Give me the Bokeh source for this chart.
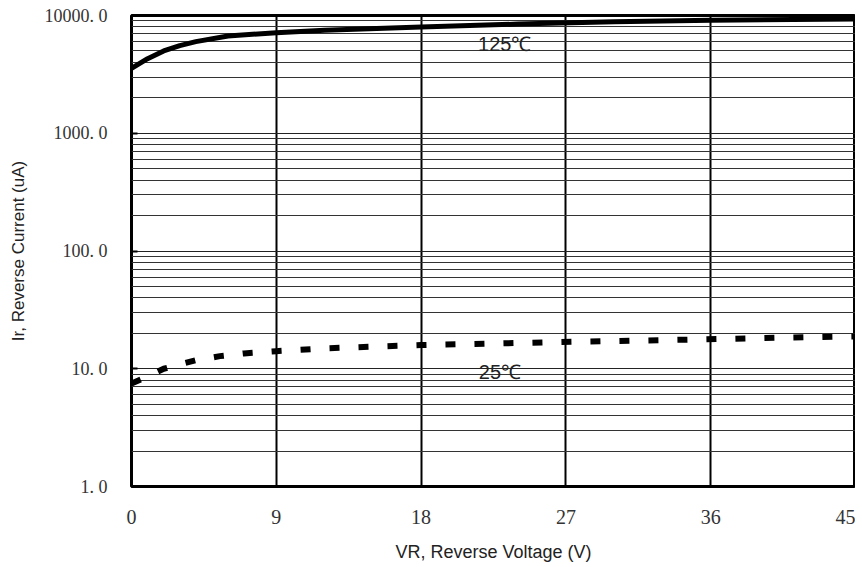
from bokeh.plotting import figure
from bokeh.models import FixedTicker, Range1d
from bokeh.core.properties import value
from bokeh.embed import file_html
from bokeh.resources import INLINE

# 125 degC curve
voltage_125 = [0, 1, 2, 3, 4, 6, 9, 12, 18, 24, 30, 36, 45]
current_125 = [3550, 4300, 5000, 5550, 6000, 6700, 7150, 7500, 8000, 8450, 8850, 9100, 9350]

# 25 degC curve
voltage_25 = [0, 1, 2, 3, 4, 5.5, 7, 9, 12, 15, 18, 22, 26, 30, 35, 40, 45]
current_25 = [7.5, 8.6, 10.0, 10.9, 11.8, 12.8, 13.5, 14.1, 14.9, 15.4, 15.9, 16.3, 16.8, 17.2, 17.7, 18.3, 18.8]

x_ticks = [0, 9, 18, 27, 36, 45]
x_grid = [9, 18, 27, 36]
y_ticks = [1, 10, 100, 1000, 10000]
y_tick_labels = ["1. 0", "10. 0", "100. 0", "1000. 0", "10000. 0"]
y_minor = [m * 10 ** k for k in range(4) for m in range(2, 10)]

labels = ["125\u2103", "25\u2103"]
label_x = [23.2, 22.9]
label_y = [5680, 9.4]

p = figure(width=855, height=565, x_range=Range1d(0, 45), y_range=Range1d(1, 10000),
           y_axis_type="log", output_backend="svg", toolbar_location=None,
           min_border_left=131, min_border_right=0, min_border_top=15, min_border_bottom=79)

p.background_fill_color = "white"
p.border_fill_color = "white"
p.outline_line_color = "black"
p.outline_line_width = 3

yt = FixedTicker(ticks=y_ticks, minor_ticks=y_minor)
p.yaxis.ticker = yt
p.ygrid.ticker = yt
p.yaxis.major_label_overrides = {t: s for t, s in zip(y_ticks, y_tick_labels)}
p.ygrid.grid_line_color = "#222222"
p.ygrid.grid_line_width = 1
p.ygrid.minor_grid_line_color = "#333333"
p.ygrid.minor_grid_line_width = 1

p.xaxis.ticker = FixedTicker(ticks=x_ticks)
p.xgrid.ticker = FixedTicker(ticks=x_grid)
p.xgrid.grid_line_color = "black"
p.xgrid.grid_line_width = 2

for ax in (p.xaxis, p.yaxis):
    ax.axis_line_color = None
    ax.minor_tick_line_color = None
    ax.major_label_text_font = "Liberation Serif"
    ax.major_label_text_color = "#333333"
    ax.axis_label_text_font = "Liberation Sans"
    ax.axis_label_text_font_style = "normal"
    ax.axis_label_text_color = "#222222"

p.xaxis.major_label_text_font_size = "20px"
p.yaxis.major_label_text_font_size = "18px"
p.xaxis.axis_label_text_font_size = "18px"
p.yaxis.axis_label_text_font_size = "17px"

p.xaxis.major_tick_line_color = None
p.xaxis.major_tick_in = 0
p.xaxis.major_tick_out = 0
p.xaxis.major_label_standoff = 23
p.xaxis.axis_label = "VR, Reverse Voltage (V)"
p.xaxis.axis_label_standoff = 15

p.yaxis.major_tick_in = 6
p.yaxis.major_tick_out = 0
p.yaxis.major_tick_line_color = "black"
p.yaxis.major_tick_line_width = 2
p.yaxis.major_label_standoff = 20
p.yaxis.axis_label = "Ir, Reverse Current (uA)"
p.yaxis.axis_label_standoff = 14

p.line(voltage_125, current_125, line_color="black", line_width=5)
p.line(voltage_25, current_25, line_color="black", line_width=6, line_dash="10 19")

p.text(x=label_x, y=label_y, text=labels, text_font=value("Liberation Sans"),
       text_font_size="20px", text_color="#222222", text_align="center",
       text_baseline="middle")

open("out.html", "w").write(file_html(p, INLINE))
